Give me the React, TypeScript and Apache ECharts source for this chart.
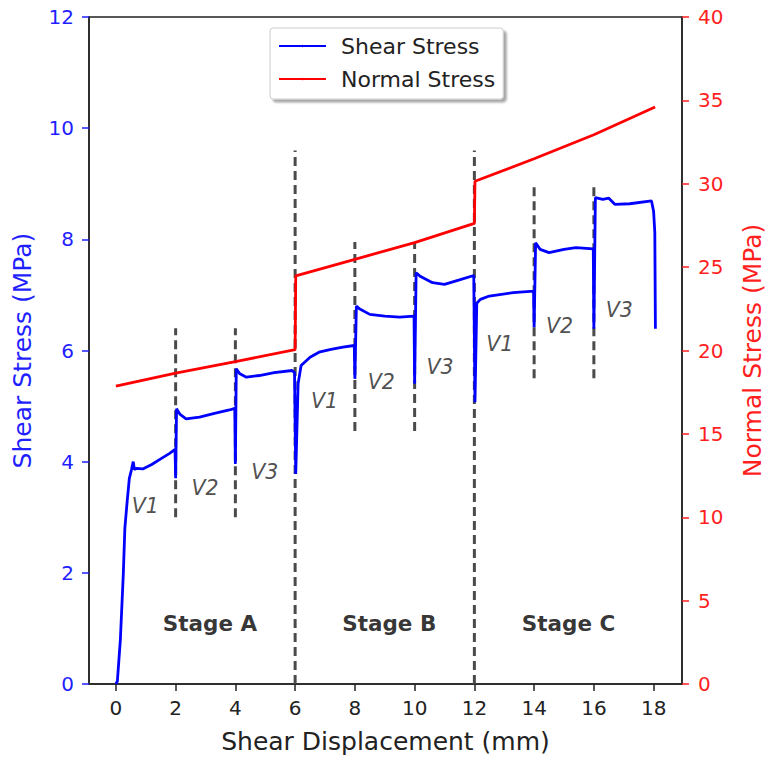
import React, { useEffect, useRef } from "react";
import * as echarts from "echarts";

const xTicks = [0, 2, 4, 6, 8, 10, 12, 14, 16, 18];
const shearTicks = [0, 2, 4, 6, 8, 10, 12];
const normalTicks = [0, 5, 10, 15, 20, 25, 30, 35, 40];

const shearStress: [number, number][] = [
  [0, 0], [0.05, 0.05], [0.15, 0.8], [0.25, 2.0], [0.3, 2.8], [0.38, 3.3], [0.45, 3.7],
  [0.52, 3.85], [0.58, 4.0], [0.62, 3.86], [0.7, 3.88], [0.9, 3.87], [1.2, 3.95], [1.5, 4.05],
  [1.8, 4.15], [1.98, 4.22], [2.0, 3.7], [2.03, 4.95], [2.15, 4.85], [2.35, 4.77], [2.8, 4.8],
  [3.3, 4.87], [3.8, 4.93], [3.98, 4.96], [4.0, 3.96], [4.03, 5.67], [4.15, 5.58], [4.37, 5.52],
  [4.8, 5.55], [5.3, 5.6], [5.9, 5.64], [5.98, 5.6], [6.02, 3.78], [6.1, 5.4], [6.2, 5.73],
  [6.5, 5.88], [6.8, 5.97], [7.2, 6.02], [7.6, 6.06], [7.98, 6.09], [8.0, 5.49], [8.05, 6.8],
  [8.15, 6.75], [8.5, 6.65], [9.0, 6.62], [9.5, 6.6], [9.98, 6.62], [10.0, 5.4], [10.05, 7.4],
  [10.2, 7.33], [10.6, 7.22], [11.0, 7.19], [11.5, 7.27], [11.98, 7.35], [12.02, 5.07],
  [12.08, 6.85], [12.2, 6.92], [12.5, 6.98], [13.3, 7.04], [13.98, 7.07], [14.0, 6.42],
  [14.05, 7.94], [14.2, 7.82], [14.5, 7.76], [15.0, 7.82], [15.4, 7.85], [15.98, 7.83],
  [16.0, 6.39], [16.05, 8.75], [16.3, 8.72], [16.5, 8.74], [16.7, 8.63], [17.2, 8.64],
  [17.93, 8.69], [18.0, 8.5], [18.04, 8.12], [18.06, 6.39],
];

const normalStress: [number, number][] = [
  [0, 17.86], [2, 18.65], [4, 19.33], [6, 20.05], [6.02, 24.47], [8, 25.47], [10, 26.47],
  [12, 27.62], [12.02, 30.15], [14, 31.5], [16, 32.94], [18.05, 34.6],
];

// dashed divider lines: [x, yFrom, yTo] in shear-stress units
const dividers: [number, number, number][] = [
  [2, 3.0, 6.4], [4, 3.0, 6.4], [6, 0, 9.6], [8, 4.55, 7.95],
  [10, 4.55, 7.95], [12, 0, 9.6], [14, 5.5, 8.95], [16, 5.5, 8.95],
];

const velocityLabels: [number, number, string][] = [
  [0.98, 3.21, "V1"], [2.98, 3.52, "V2"], [4.98, 3.82, "V3"],
  [6.98, 5.1, "V1"], [8.88, 5.44, "V2"], [10.85, 5.71, "V3"],
  [12.85, 6.12, "V1"], [14.85, 6.44, "V2"], [16.85, 6.73, "V3"],
];

const stageLabels: [number, number, string][] = [
  [3.15, 1.09, "Stage A"], [9.15, 1.09, "Stage B"], [15.15, 1.09, "Stage C"],
];

const FONT = "DejaVu Sans";
const BLUE = "#1f1fff";
const RED = "#ff1f1f";

export default function App() {
  const ref = useRef<HTMLDivElement>(null);
  useEffect(() => {
    if (!ref.current) return;
    const chart = echarts.init(ref.current, null, { renderer: "svg" });
    const dividerSeries = dividers.map(([x, a, b]) => ({
      type: "line",
      name: "div" + x,
      xAxisIndex: 0,
      yAxisIndex: 0,
      data: [[x, a], [x, b]],
      symbol: "none",
      silent: true,
      z: 1,
      lineStyle: { color: "#4a4a4a", width: 3, type: [9, 5] },
    }));
    chart.setOption({
      animation: false,
      backgroundColor: "#fff",
      textStyle: { fontFamily: FONT },
      grid: {
        left: 89, right: 86, top: 17, bottom: 72,
        show: true, borderColor: "#222", borderWidth: 1.5,
      },
      legend: {
        data: ["Shear Stress", "Normal Stress"],
        orient: "vertical",
        left: 270,
        top: 28,
        itemWidth: 47,
        itemHeight: 3,
        itemGap: 11,
        padding: [7, 8, 9, 8],
        backgroundColor: "#fff",
        borderColor: "#ccc",
        borderWidth: 1,
        borderRadius: 3,
        shadowColor: "rgba(0,0,0,0.35)",
        shadowBlur: 2,
        shadowOffsetX: 3,
        shadowOffsetY: 3,
        textStyle: { fontFamily: FONT, fontSize: 22, color: "#222", padding: [0, 0, 0, 10] },
      },
      xAxis: {
        type: "value",
        min: -0.9,
        max: 18.95,
        name: "Shear Displacement (mm)",
        nameLocation: "middle",
        nameGap: 45,
        nameTextStyle: { fontFamily: FONT, fontSize: 25, color: "#222" },
        axisLine: { show: true, onZero: false, lineStyle: { color: "#222", width: 1.5 } },
        axisTick: { show: true, customValues: xTicks, length: 7, lineStyle: { color: "#222", width: 1.5 } },
        axisLabel: { customValues: xTicks, fontFamily: FONT, fontSize: 20, color: "#222", margin: 14 },
        splitLine: { show: false },
      },
      yAxis: [
        {
          type: "value",
          min: 0,
          max: 12,
          interval: 2,
          position: "left",
          name: "Shear Stress (MPa)",
          nameLocation: "middle",
          nameGap: 54,
          nameTextStyle: { fontFamily: FONT, fontSize: 25, color: BLUE },
          axisLine: { show: true, onZero: false, lineStyle: { color: "#222", width: 1.5 } },
          axisTick: { show: true, length: 7, lineStyle: { color: BLUE, width: 1.5 } },
          axisLabel: {
            fontFamily: FONT, fontSize: 20, color: BLUE, margin: 15,
            customValues: shearTicks,
          },
          splitLine: { show: false },
        },
        {
          type: "value",
          min: 0,
          max: 40,
          interval: 5,
          position: "right",
          name: "Normal Stress (MPa)",
          nameLocation: "middle",
          nameGap: 58,
          nameRotate: 90,
          nameTextStyle: { fontFamily: FONT, fontSize: 25, color: RED },
          axisLine: { show: true, onZero: false, lineStyle: { color: "#222", width: 1.5 } },
          axisTick: { show: true, length: 7, lineStyle: { color: RED, width: 1.5 } },
          axisLabel: {
            fontFamily: FONT, fontSize: 20, color: RED, margin: 16,
            customValues: normalTicks,
          },
          splitLine: { show: false },
        },
      ],
      series: [
        ...dividerSeries,
        {
          type: "line",
          name: "Shear Stress",
          yAxisIndex: 0,
          data: shearStress,
          symbol: "none",
          z: 3,
          lineStyle: { color: "#0000ff", width: 2.8 },
          itemStyle: { color: "#0000ff" },
        },
        {
          type: "line",
          name: "Normal Stress",
          yAxisIndex: 1,
          data: normalStress,
          symbol: "none",
          z: 3,
          lineStyle: { color: "#ff0000", width: 2.8 },
          itemStyle: { color: "#ff0000" },
        },
        {
          type: "scatter",
          name: "velocity",
          yAxisIndex: 0,
          symbolSize: 0,
          silent: true,
          data: velocityLabels.map(([x, y, t]) => ({ value: [x, y], name: t })),
          label: {
            show: true, position: "inside", formatter: "{b}",
            fontFamily: FONT, fontSize: 20.5, fontStyle: "italic", color: "#222",
          },
        },
        {
          type: "scatter",
          name: "stage",
          yAxisIndex: 0,
          symbolSize: 0,
          silent: true,
          data: stageLabels.map(([x, y, t]) => ({ value: [x, y], name: t })),
          label: {
            show: true, position: "inside", formatter: "{b}",
            fontFamily: FONT, fontSize: 21.5, fontWeight: "bold", color: "#000",
          },
        },
      ],
    });
    return () => chart.dispose();
  }, []);
  return <div ref={ref} style={{ width: 773, height: 759, position: "absolute", left: 0, top: 0 }} />;
}
